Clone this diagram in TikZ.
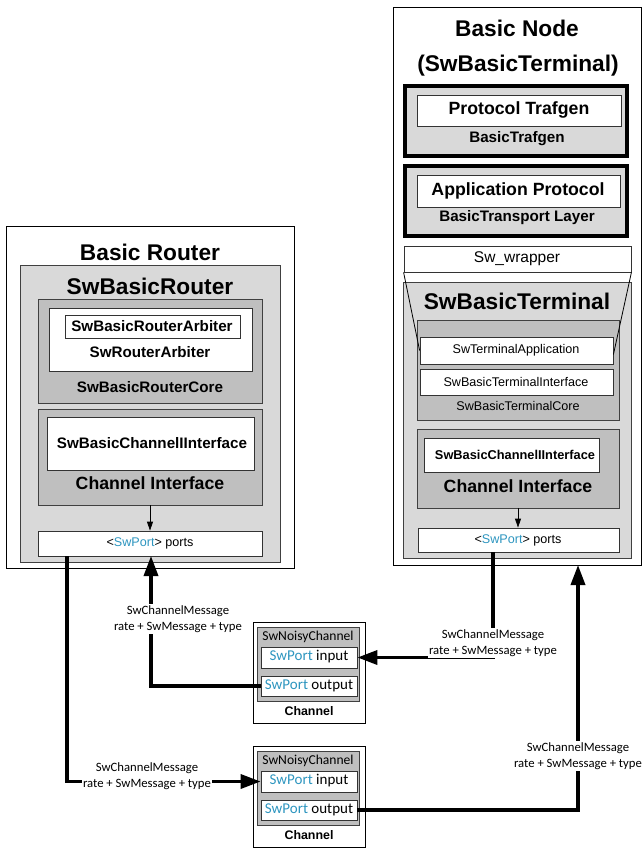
\documentclass[tikz,border=0pt]{standalone}
\usepackage{fontspec}
\setmainfont{Liberation Sans}
\newfontfamily\calibrifont{Carlito}
\usetikzlibrary{arrows.meta,fit}

\definecolor{paneLight}{RGB}{217,217,217}
\definecolor{paneDark}{RGB}{191,191,191}
\definecolor{portBlue}{RGB}{46,150,192}
\newcommand\setfs[1]{\fontsize{#1}{#1}\selectfont}
\newcommand\swport{\textcolor{portBlue}{SwPort}}

\tikzset{
  outerbox/.style={draw=black, line width=1pt, fill=white, inner sep=0pt},
  panel/.style={draw=black!75, line width=0.8pt, fill=paneLight, inner sep=0pt},
  corebox/.style={draw=black!75, line width=0.8pt, fill=paneDark, inner sep=0pt},
  slot/.style={draw=black!80, line width=0.8pt, fill=white, inner sep=0pt},
  heavybox/.style={draw=black, line width=4pt, fill=paneLight, inner sep=0pt},
  titletxt/.style={font=\bfseries\setfs{22.7}, inner sep=0pt},
  headtxt/.style={font=\bfseries\setfs{17.7}, inner sep=0pt},
  subtxt/.style={font=\bfseries\setfs{15.2}, inner sep=0pt},
  smallbold/.style={font=\bfseries\setfs{12.8}, inner sep=0pt},
  plaintxt/.style={font=\setfs{12.6}, inner sep=0pt},
  chantxt/.style={font=\calibrifont\setfs{13.6}, inner sep=0pt},
  porttxt/.style={font=\calibrifont\setfs{15}, inner sep=0pt},
  msglabel/.style={font=\calibrifont\setfs{12.7}, align=center, fill=white,
    inner xsep=1pt, inner ysep=1pt, execute at begin node={\baselineskip=16.5pt}},
  wire/.style={line width=3.5pt, -{Triangle[length=20pt,width=14pt]}},
  feed/.style={line width=0.8pt, -{Triangle[length=9pt,width=6pt]}},
}

\begin{document}
\begin{tikzpicture}[x=1pt,y=-1pt]
\useasboundingbox (0,0) rectangle (642,850);

% ---------------- Basic Router ----------------
\node[outerbox, fit={(6,226) (294,568)}] (router) {};
\node[titletxt] (routerT) at (150,252) {Basic Router};
\node[panel, fit={(20,265) (280,562)}] (swrouter) {};
\node[titletxt] (swrouterT) at (150,286) {SwBasicRouter};
\node[corebox, fit={(38,299) (262,403)}] (rcore) {};
\node[slot, fit={(49,308) (252,371)}] (rarb) {};
\node[slot, fit={(65,315) (240,338)}] (rbarb) {};
\node[subtxt] (rbarbT) at (152,326) {SwBasicRouterArbiter};
\node[subtxt] (rarbT) at (150,352) {SwRouterArbiter};
\node[subtxt] (rcoreT) at (150,387) {SwBasicRouterCore};
\node[corebox, fit={(38,409) (262,505)}] (rci) {};
\node[slot, fit={(47,417) (254,470)}] (rbci) {};
\node[subtxt] (rbciT) at (152,443) {SwBasicChannelIInterface};
\node[headtxt] (rciT) at (150,483) {Channel Interface};
\node[slot, fit={(38,531) (262,556)}] (rports) {};
\node[plaintxt] (rportsT) at (150,543) {<\swport> ports};
\draw[feed] (rci.south -| rports.north) -- (rports.north);

% ---------------- Basic Node ----------------
\node[outerbox, fit={(393,8) (641.5,565)}] (bnode) {};
\node[titletxt] (bnodeT) at (517,28) {Basic Node};
\node[titletxt] (bnodeT2) at (518,66) {(SwBasicTerminal)};
\node[heavybox, fit={(405,86) (627,156)}] (trafgen) {};
\node[slot, fit={(417,95) (621,126)}] (ptraf) {};
\node[headtxt] (ptrafT) at (519,110) {Protocol Trafgen};
\node[subtxt] (trafgenT) at (517,139) {BasicTrafgen};
\node[heavybox, fit={(405,166) (627,236)}] (transport) {};
\node[slot, fit={(417,175) (620,207)}] (approt) {};
\node[headtxt] (approtT) at (518,191) {Application Protocol};
\node[subtxt] (transportT) at (517,218) {BasicTransport Layer};
\node[slot, fit={(404,246) (631,272)}] (wrapper) {};
\node[font=\setfs{15.5}, inner sep=0pt] (wrapperT) at (517,259) {Sw\_wrapper};
\node[panel, fit={(403,282) (631,558)}] (swterm) {};
\node[titletxt] (swtermT) at (517,301) {SwBasicTerminal};
\node[corebox, fit={(417,320) (619,420)}] (tcore) {};
\node[slot, fit={(420,337) (613,364)}] (tapp) {};
\node[plaintxt] (tappT) at (516,350) {SwTerminalApplication};
\node[slot, fit={(420,369) (613,395)}] (tif) {};
\node[plaintxt] (tifT) at (516,382) {SwBasicTerminalInterface};
\node[plaintxt] (tcoreT) at (518,406) {SwBasicTerminalCore};
\node[corebox, fit={(417,429) (619,508)}] (tci) {};
\node[slot, fit={(424,438) (599,472)}] (tbci) {};
\node[smallbold] (tbciT) at (515,455) {SwBasicChannelIInterface};
\node[headtxt] (tciT) at (518,486) {Channel Interface};
\node[slot, fit={(418,528) (619,552)}] (tports) {};
\node[plaintxt] (tportsT) at (518,540) {<\swport> ports};
\draw[feed] (tci.south -| tportsT.north) -- (tports.north -| tportsT.north);
% wrapper flanks
\draw[line width=0.8pt] (wrapper.south west) -- (tapp.west);
\draw[line width=0.8pt] (wrapper.south east) -- ([yshift=-4pt]tapp.east);

% ---------------- Channels ----------------
\node[outerbox, fit={(253,622) (365,723)}] (chA) {};
\node[corebox, fit={(257,627) (359,701)}] (noisyA) {};
\node[chantxt] (noisyAT) at (308,637) {SwNoisyChannel};
\node[slot, fit={(261,647) (357,668)}] (inA) {};
\node[porttxt] (inAT) at (309,657) {\swport{} input};
\node[slot, fit={(261,676) (357,696)}] (outA) {};
\node[porttxt] (outAT) at (309,686) {\swport{} output};
\node[font=\bfseries\setfs{12.4}, inner sep=0pt] (chAT) at (309,711) {Channel};

\node[outerbox, fit={(253,746) (365,847)}] (chB) {};
\node[corebox, fit={(257,751) (359,825)}] (noisyB) {};
\node[chantxt] (noisyBT) at (308,761) {SwNoisyChannel};
\node[slot, fit={(261,771) (357,792)}] (inB) {};
\node[porttxt] (inBT) at (309,781) {\swport{} input};
\node[slot, fit={(261,800) (357,820)}] (outB) {};
\node[porttxt] (outBT) at (309,810) {\swport{} output};
\node[font=\bfseries\setfs{12.4}, inner sep=0pt] (chBT) at (309,835) {Channel};

% ---------------- Message connectors ----------------
\coordinate (rIn) at (151,556);
\coordinate (rOut) at (67,556);
\coordinate (tOut) at (493,552);
\coordinate (tIn) at (578,565);

\draw[wire] (outA.west) -| (rIn);
\draw[wire] (tOut) |- (inA.east);
\draw[wire] (rOut) |- (inB.west);
\draw[wire] (outB.east) -| (tIn);

\node[msglabel] (msg1) at (178,619) {SwChannelMessage\\rate + SwMessage + type};
\node[msglabel] (msg2) at (493,643) {SwChannelMessage\\rate + SwMessage + type};
\node[msglabel] (msg3) at (147,776) {SwChannelMessage\\rate + SwMessage + type};
\node[msglabel] (msg4) at (578,756) {SwChannelMessage\\rate + SwMessage + type};
\end{tikzpicture}
\end{document}
